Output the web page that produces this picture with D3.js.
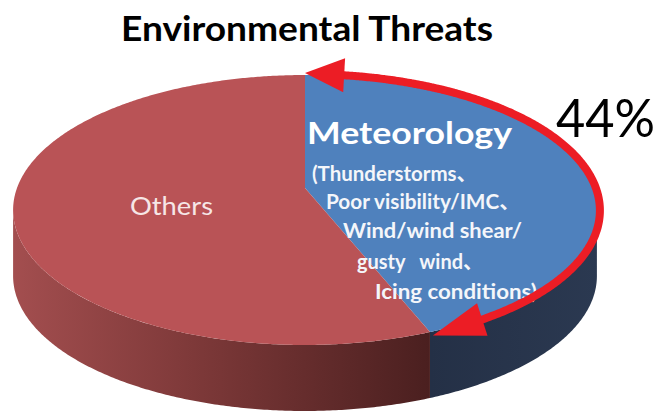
<!DOCTYPE html>
<html><head><meta charset="utf-8">
<script src="https://cdn.jsdelivr.net/npm/d3@7"></script>
<style>html,body{margin:0;padding:0;background:#fff;} svg{display:block;}</style>
</head><body>
<script>
// ---- data ----
const categories = ["Meteorology", "Others"];
const values = [44, 56];
const percentLabel = "44%";
const chartTitle = "Environmental Threats";
const meteoDetail = ["(Thunderstorms、", "Poor visibility/IMC、", "Wind/wind shear/", "gusty   wind、", "Icing conditions)"];
const topColors = ["#4F81BD", "#B95356"];

// ---- layout ----
const W = 659, H = 416;
const svg = d3.select("body").append("svg").attr("width", W).attr("height", H);
const cx = 305, cy = 188, A = 288, B = 131.4, k = 0.163, depth = 66;
const deg = Math.PI / 180;
function P(t, r = 1) {
  const u = r * Math.sin(t), v = -r * Math.cos(t), w = 1 - k * v;
  return [cx + A * u / w, cy + B * v / w];
}
function arcPts(a0, a1, r = 1) {
  const n = Math.max(2, Math.ceil(Math.abs(a1 - a0) / (0.5 * deg)));
  return d3.range(n + 1).map(i => P(a0 + (a1 - a0) * i / n, r));
}
const pie = d3.pie().sort(null).value(d => d)(values);
const silR = Math.acos(-k), silL = 2 * Math.PI - silR;
const line = d3.line();

const defs = svg.append("defs");
const g0 = defs.append("linearGradient").attr("id", "side0").attr("gradientUnits", "userSpaceOnUse")
  .attr("x1", 430).attr("y1", 0).attr("x2", 600).attr("y2", 0);
g0.append("stop").attr("offset", 0).attr("stop-color", "#243046");
g0.append("stop").attr("offset", 1).attr("stop-color", "#2B3951");
const g1 = defs.append("linearGradient").attr("id", "side1").attr("gradientUnits", "userSpaceOnUse")
  .attr("x1", 13).attr("y1", 0).attr("x2", 433).attr("y2", 0);
g1.append("stop").attr("offset", 0).attr("stop-color", "#A34E4F");
g1.append("stop").attr("offset", 0.45).attr("stop-color", "#7C3838");
g1.append("stop").attr("offset", 1).attr("stop-color", "#4A1F1F");

// sides
pie.forEach((p, i) => {
  const a0 = Math.max(p.startAngle, silR), a1 = Math.min(p.endAngle, silL);
  if (a1 <= a0) return;
  const top = arcPts(a0, a1);
  const bot = top.map(([x, y]) => [x, y + depth]).reverse();
  svg.append("path").attr("d", line(top.concat(bot)) + "Z").attr("fill", `url(#side${i})`);
});
// tops
pie.forEach((p, i) => {
  const pts = [[cx, cy]].concat(arcPts(p.startAngle, p.endAngle));
  svg.append("path").attr("d", line(pts) + "Z").attr("fill", topColors[i]);
});

// title
svg.append("text").attr("x", 121).attr("y", 41)
  .attr("font-family", "Lato, 'Noto Sans', sans-serif").attr("font-weight", 700)
  .attr("font-size", 34).attr("fill", "#000")
  .attr("textLength", 372).attr("lengthAdjust", "spacingAndGlyphs").text(chartTitle);

// Others label
svg.append("text").attr("x", 130).attr("y", 215)
  .attr("font-family", "Lato, 'Noto Sans', sans-serif").attr("font-size", 25)
  .attr("fill", "#F6E6E6").attr("textLength", 83).attr("lengthAdjust", "spacingAndGlyphs").text(categories[1]);

// Meteorology label
svg.append("text").attr("x", 307).attr("y", 144)
  .attr("font-family", "Lato, 'Noto Sans', sans-serif").attr("font-weight", 700).attr("font-size", 31)
  .attr("fill", "#fff").attr("textLength", 205).attr("lengthAdjust", "spacingAndGlyphs").text(categories[0]);

const detailX = [312, 326, 343, 357, 375];
const detailY = [181, 209, 238, 269, 299];
const detailW = [165, 194, 179, 126, 162];
meteoDetail.forEach((s, i) => {
  svg.append("text").attr("x", detailX[i]).attr("y", detailY[i])
    .attr("font-family", "Lato, 'Noto Sans CJK SC', sans-serif").attr("font-weight", 700).attr("font-size", 20)
    .style("white-space", "pre")
    .attr("fill", "#F4F6FA").attr("textLength", detailW[i]).attr("lengthAdjust", "spacingAndGlyphs").text(s);
});

// arrow along the Meteorology slice
const aS = pie[0].startAngle, aE = pie[0].endAngle;
const arrowColor = "#EC1D25";
const arcLine = arcPts(aS + 7 * deg, aE - 7 * deg, 1.01);
svg.append("path").attr("d", d3.line().curve(d3.curveBasis)(arcLine))
  .attr("fill", "none").attr("stroke", arrowColor).attr("stroke-width", 8);
function head(tipA, baseA) {
  const t = P(tipA, 1.02), b = P(baseA, 1.01);
  const dx = t[0] - b[0], dy = t[1] - b[1], L = Math.hypot(dx, dy);
  const nx = -dy / L * 17, ny = dx / L * 17;
  svg.append("path").attr("d", line([t, [b[0] + nx, b[1] + ny], [b[0] - nx, b[1] - ny]]) + "Z").attr("fill", arrowColor);
}
head(aS, aS + 9 * deg);
head(aE, aE - 10 * deg);

// percent label
svg.append("text").attr("x", 556).attr("y", 137)
  .attr("font-family", "Lato, 'Noto Sans', sans-serif").attr("font-size", 52)
  .attr("fill", "#000").attr("textLength", 99).attr("lengthAdjust", "spacingAndGlyphs").text(percentLabel);
</script>
</body></html>
